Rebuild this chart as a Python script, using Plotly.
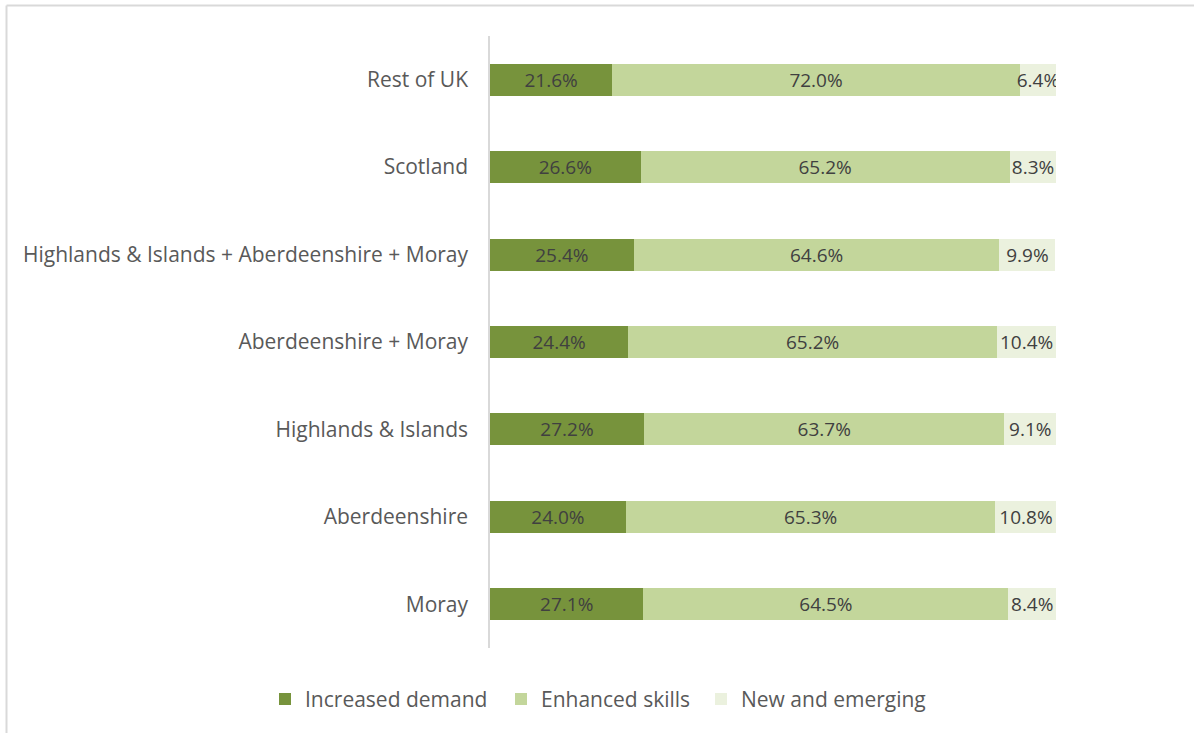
import plotly.graph_objects as go

categories = ["Rest of UK", "Scotland", "Highlands & Islands + Aberdeenshire + Moray",
              "Aberdeenshire + Moray", "Highlands & Islands", "Aberdeenshire", "Moray"]
increased_demand = [21.6, 26.6, 25.4, 24.4, 27.2, 24.0, 27.1]
enhanced_skills = [72.0, 65.2, 64.6, 65.2, 63.7, 65.3, 64.5]
new_emerging = [6.4, 8.3, 9.9, 10.4, 9.1, 10.8, 8.4]

series = [
    ("Increased demand", increased_demand, "#77933c"),
    ("Enhanced skills", enhanced_skills, "#c3d69b"),
    ("New and emerging", new_emerging, "#ebf1de"),
]

FONT = "Open Sans"
legend_ids = ["legend", "legend2", "legend3"]
legend_x_px = [265, 501, 701]

fig = go.Figure()
for (name, vals, color), lid in zip(series, legend_ids):
    fig.add_trace(go.Bar(
        y=categories, x=vals, name=name, orientation="h", legend=lid,
        showlegend=True,
        marker=dict(color=color, line=dict(width=0)),
        text=[f"{v:.1f}%" for v in vals],
        textposition="inside", insidetextanchor="middle",
        constraintext="none", textangle=0,
        textfont=dict(family=FONT, size=19, color="#404040"),
        hoverinfo="skip",
    ))

legend_common = dict(orientation="h", xref="container", yref="container",
                     xanchor="left", y=0.046, yanchor="middle",
                     font=dict(family=FONT, size=21, color="#595959"),
                     itemwidth=30, bgcolor="rgba(0,0,0,0)")

fig.update_layout(
    showlegend=True,
    barmode="stack",
    bargap=0.634,
    width=1194, height=733,
    margin=dict(l=490, r=138, t=36, b=85, autoexpand=False),
    paper_bgcolor="white", plot_bgcolor="white",
    font=dict(family=FONT, color="#595959"),
    xaxis=dict(range=[0, 100], showgrid=False, zeroline=False, showticklabels=False,
               showline=False, fixedrange=True),
    yaxis=dict(autorange="reversed", showgrid=False, zeroline=False, showline=True,
               linecolor="#d9d9d9", linewidth=1.5, ticks="", ticklabelstandoff=16,
               tickfont=dict(family=FONT, size=21, color="#595959")),
    legend=dict(x=legend_x_px[0] / 1194, **legend_common),
    legend2=dict(x=legend_x_px[1] / 1194, **legend_common),
    legend3=dict(x=legend_x_px[2] / 1194, **legend_common),
    shapes=[
        dict(type="line", xref="paper", yref="paper",
             x0=(6.5 - 490) / 566, x1=(1194 - 490) / 566,
             y0=(648 - 5.5) / 612, y1=(648 - 5.5) / 612,
             line=dict(color="#d9d9d9", width=2)),
        dict(type="line", xref="paper", yref="paper",
             x0=(6.5 - 490) / 566, x1=(6.5 - 490) / 566,
             y0=(648 - 5.5) / 612, y1=(648 - 740) / 612,
             line=dict(color="#d9d9d9", width=2)),
    ],
)

fig.write_html("out.html")
